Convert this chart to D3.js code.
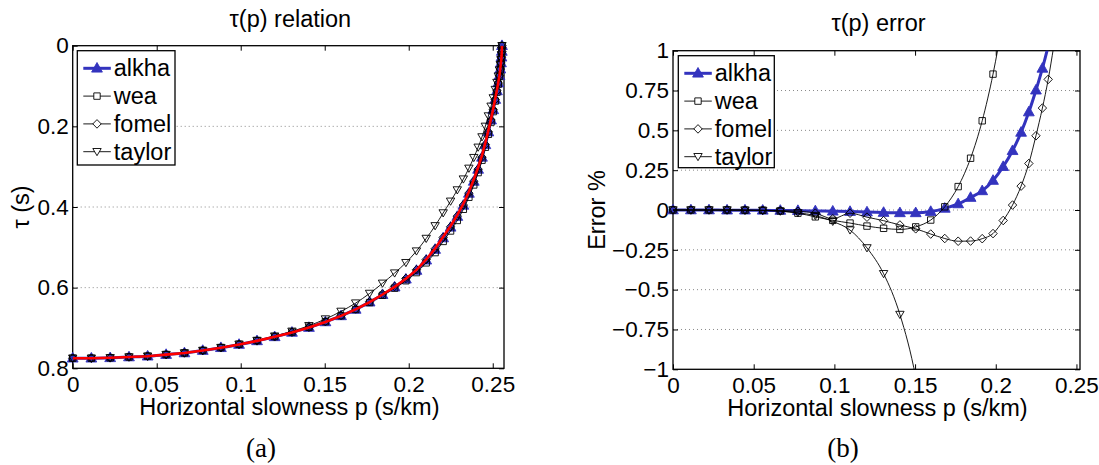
<!DOCTYPE html>
<html><head><meta charset="utf-8">
<script src="https://cdn.jsdelivr.net/npm/d3@7"></script>
<style>
body{margin:0;background:#fff;}
</style></head><body>
<svg id="c" width="1099" height="465" style="background:#fff"></svg>
<script>
// ---------- data ----------
const pValues = [0,0.0111,0.0223,0.0335,0.0446,0.0556,0.0665,0.0774,0.0882,0.0990,0.1097,0.1202,0.1305,0.1406,0.1504,0.1597,0.1684,0.1767,0.1844,0.1916,0.1983,0.2046,0.2104,0.2157,0.2205,0.2249,0.2289,0.2325,0.2358,0.2387,0.2413,0.2436,0.2456,0.2474,0.2490,0.2503,0.2515,0.2525,0.2533,0.2540,0.2545,0.2549,0.2552,0.2554,0.2555];
const tauExact = [0.775,0.775,0.774,0.772,0.770,0.766,0.762,0.756,0.749,0.741,0.732,0.722,0.711,0.699,0.685,0.670,0.654,0.636,0.617,0.598,0.578,0.556,0.530,0.503,0.474,0.447,0.420,0.392,0.362,0.332,0.302,0.272,0.241,0.210,0.181,0.156,0.131,0.110,0.091,0.073,0.057,0.042,0.028,0.014,0.000];
const tauAlkha = [0.775,0.775,0.774,0.772,0.770,0.766,0.762,0.756,0.749,0.741,0.732,0.722,0.711,0.699,0.685,0.670,0.654,0.636,0.6175,0.5987,0.5791,0.5575,0.532,0.5054,0.4769,0.4504,0.4237,0.396,0.3663,0.3366,0.3068,0.2769,0.2458,0.2142,0.1846,0.1591,0.1336,0.1122,0.0928,0.0745,0.0581,0.0428,0.0286,0.0143,0];
const tauWea = [0.775,0.775,0.774,0.772,0.770,0.766,0.762,0.7558,0.7487,0.7405,0.7314,0.7213,0.7102,0.6981,0.6843,0.6696,0.6541,0.637,0.619,0.6013,0.5829,0.5627,0.5385,0.5131,0.4854,0.4595,0.4334,0.4057,0.3758,0.3453,0.3147,0.284,0.2518,0.2197,0.1895,0.1635,0.1373,0.1153,0.0954,0.0765,0.0597,0.044,0.0293,0.0147,0];
const tauFomel = [0.775,0.775,0.774,0.772,0.770,0.766,0.762,0.7559,0.7489,0.7406,0.7319,0.7217,0.7105,0.6983,0.6842,0.669,0.6528,0.6348,0.6158,0.5969,0.5771,0.5556,0.5302,0.5038,0.4754,0.4491,0.4227,0.3952,0.3657,0.336,0.3062,0.2764,0.2451,0.2138,0.1843,0.1588,0.1334,0.112,0.0926,0.0743,0.058,0.0428,0.0285,0.0143,0];
const tauTaylor = [0.775,0.775,0.774,0.772,0.770,0.766,0.762,0.7559,0.7487,0.7404,0.7311,0.7203,0.7082,0.6944,0.6778,0.6589,0.6383,0.6144,0.5892,0.5639,0.5381,0.5093,0.4781,0.4467,0.4148,0.3858,0.3578,0.3308,0.3041,0.2776,0.2519,0.2263,0.2,0.1743,0.1502,0.1295,0.1087,0.0913,0.0755,0.0606,0.0473,0.0349,0.0232,0.0116,0];

const errAlkha = [0,0,0,-0.001,-0.001,-0.002,-0.003,-0.004,-0.006,-0.008,-0.010,-0.013,-0.016,-0.018,-0.018,-0.010,0.010,0.038,0.078,0.120,0.185,0.272,0.372,0.487,0.615,0.752,0.889,1.03,1.18];
const errWea = [0,0,0,0,-0.001,-0.002,-0.006,-0.020,-0.043,-0.065,-0.082,-0.101,-0.115,-0.122,-0.106,-0.063,0.020,0.147,0.325,0.560,0.853,1.20];
const errFomel = [0,0,0,0,-0.001,-0.002,-0.004,-0.008,-0.020,-0.055,-0.020,-0.045,-0.067,-0.094,-0.118,-0.151,-0.179,-0.196,-0.195,-0.180,-0.148,-0.066,0.031,0.150,0.292,0.466,0.640,0.820,1.02];
const errTaylor = [0,0,0,0,-0.001,-0.003,-0.008,-0.018,-0.035,-0.072,-0.126,-0.238,-0.400,-0.656,-1.05,-1.65];

const seriesNames = ["alkha","wea","fomel","taylor"];
const xTicks = [0,0.05,0.1,0.15,0.2,0.25];
const xTickLabels = ["0","0.05","0.1","0.15","0.2","0.25"];
const leftYTicks = [0,0.2,0.4,0.6,0.8];
const leftYTickLabels = ["0","0.2","0.4","0.6","0.8"];
const rightYTicks = [1,0.75,0.5,0.25,0,-0.25,-0.5,-0.75,-1];
const rightYTickLabels = ["1","0.75","0.5","0.25","0","\u22120.25","\u22120.5","\u22120.75","\u22121"];

// ---------- style ----------
const FONT = "'Liberation Sans', Arial, Helvetica, sans-serif";
const BLUE = "rgb(51,51,190)";
const styles = {
  alkha: {color: BLUE, width: 3, marker: "triUp", fill: BLUE},
  wea: {color: "#000", width: 0.9, marker: "square", fill: "none"},
  fomel: {color: "#000", width: 0.9, marker: "diamond", fill: "none"},
  taylor: {color: "#000", width: 0.9, marker: "triDown", fill: "none"}
};
function markerPath(t){
  switch(t){
    case "triUp": return "M0,-5.8L5.4,3.8L-5.4,3.8Z";
    case "triDown": return "M0,4L4.2,-3.2L-4.2,-3.2Z";
    case "square": return "M-3.2,-3.2L3.2,-3.2L3.2,3.2L-3.2,3.2Z";
    case "diamond": return "M0,-4.3L4.2,0L0,4.3L-4.2,0Z";
  }
}

const svg = d3.select("#c");
svg.append("rect").attr("width",1099).attr("height",465).attr("fill","#fff");

function panel(o){
  const g = svg.append("g");
  const x = d3.scaleLinear().domain([0,o.xMax]).range([o.left,o.right]);
  const y = d3.scaleLinear().domain(o.yDomain).range([o.top,o.bottom]);
  const clipId = "clip"+o.id;
  svg.append("defs").append("clipPath").attr("id",clipId)
    .append("rect").attr("x",o.left).attr("y",o.top).attr("width",o.right-o.left).attr("height",o.bottom-o.top);
  // grid
  g.append("g").selectAll("line").data(o.yTicks.filter(d=>d!==o.yDomain[0]&&d!==o.yDomain[1])).join("line")
    .attr("x1",o.left).attr("x2",o.right).attr("y1",d=>y(d)).attr("y2",d=>y(d))
    .attr("stroke","#8a8a8a").attr("stroke-width",1).attr("stroke-dasharray","1,3");
  // axes
  const style = sel => { sel.select(".domain").remove();
    sel.attr("font-family",FONT).attr("font-size",22.5);
    sel.selectAll("line").attr("stroke","#000");
    sel.selectAll("text").attr("fill","#000"); };
  g.append("g").attr("transform",`translate(0,${o.bottom})`)
    .call(d3.axisBottom(x).tickValues(xTicks).tickFormat((d,i)=>xTickLabels[i]).tickSize(-5).tickPadding(8)).call(style);
  g.append("g").attr("transform",`translate(0,${o.top})`)
    .call(d3.axisTop(x).tickValues(xTicks).tickFormat("").tickSize(-5)).call(style);
  g.append("g").attr("transform",`translate(${o.left},0)`)
    .call(d3.axisLeft(y).tickValues(o.yTicks).tickFormat((d,i)=>o.yTickLabels[i]).tickSize(-5).tickPadding(4)).call(style);
  g.append("g").attr("transform",`translate(${o.right},0)`)
    .call(d3.axisRight(y).tickValues(o.yTicks).tickFormat("").tickSize(-5)).call(style);
  g.append("rect").attr("x",o.left).attr("y",o.top).attr("width",o.right-o.left).attr("height",o.bottom-o.top)
    .attr("fill","none").attr("stroke","#000").attr("stroke-width",1.3);

  const line = d3.line().x(d=>x(d[0])).y(d=>y(d[1])).curve(d3.curveMonotoneX);
  const [lo,hi] = [Math.min(...o.yDomain),Math.max(...o.yDomain)];
  o.series.forEach(s=>{
    const st = styles[s.name];
    const pts = s.values.map((v,i)=>[pValues[i],v]);
    g.append("path").attr("d",line(pts)).attr("fill","none").attr("stroke",st.color)
      .attr("stroke-width",st.width).attr("clip-path",`url(#${clipId})`);
    g.append("g").selectAll("path").data(pts.filter(d=>d[1]>=lo-1e-9&&d[1]<=hi+1e-9)).join("path")
      .attr("d",markerPath(st.marker)).attr("transform",d=>`translate(${x(d[0])},${y(d[1])})`)
      .attr("fill",st.fill).attr("stroke",st.color).attr("stroke-width",0.9);
  });
  if(o.exact){
    const pts = o.exact.map((v,i)=>[pValues[i],v]);
    g.append("path").attr("d",d3.line().x(d=>x(d[0])).y(d=>y(d[1])).curve(d3.curveLinear)(pts))
      .attr("fill","none").attr("stroke","#ff0000").attr("stroke-width",2.6).attr("clip-path",`url(#${clipId})`);
  }
  // legend
  const L = o.legend;
  const lg = g.append("g");
  lg.append("rect").attr("x",L.x).attr("y",L.y).attr("width",L.w).attr("height",L.h)
    .attr("fill","#fff").attr("stroke","#000").attr("stroke-width",1.3);
  seriesNames.forEach((n,i)=>{
    const st = styles[n]; const yy = L.y + 17.6 + i*27.8;
    lg.append("line").attr("x1",L.x+6).attr("x2",L.x+33.5).attr("y1",yy).attr("y2",yy)
      .attr("stroke",st.color).attr("stroke-width",st.width);
    lg.append("path").attr("d",markerPath(st.marker)).attr("transform",`translate(${L.x+19.7},${yy})`)
      .attr("fill",st.fill==="none"?"#fff":st.fill).attr("stroke",st.color).attr("stroke-width",0.9);
    lg.append("text").attr("x",L.x+36.5).attr("y",yy+8).text(n)
      .attr("font-family",FONT).attr("font-size",23.5).attr("fill","#000");
  });
  // labels
  const cx = (o.left+o.right)/2;
  g.append("text").attr("x",cx+2).attr("y",o.titleY).attr("text-anchor","middle").text(o.title)
    .attr("font-family",FONT).attr("font-size",23.5);
  g.append("text").attr("x",cx+1).attr("y",o.xLabelY).attr("text-anchor","middle").text("Horizontal slowness p (s/km)")
    .attr("font-family",FONT).attr("font-size",23.5);
  g.append("text").attr("transform",`translate(${o.yLabelX},${(o.top+o.bottom)/2}) rotate(-90)`)
    .attr("text-anchor","middle").text(o.yLabel).attr("font-family",FONT).attr("font-size",23.5);
  g.append("text").attr("x",o.capX).attr("y",457).attr("text-anchor","middle").text(o.caption)
    .attr("font-family","'Liberation Serif', 'DejaVu Serif', serif").attr("font-size",27);
}

panel({id:"L", left:72.7, right:504, top:45.7, bottom:368.3, xMax:0.2567, yDomain:[0,0.8],
  yTicks:leftYTicks, yTickLabels:leftYTickLabels,
  series:[{name:"alkha",values:tauAlkha},{name:"wea",values:tauWea},{name:"fomel",values:tauFomel},{name:"taylor",values:tauTaylor}],
  exact:tauExact, legend:{x:77.3,y:50.7,w:97.7,h:114.3},
  title:"\u03c4(p) relation", titleY:27, xLabelY:415, yLabel:"\u03c4 (s)", yLabelX:29, caption:"(a)", capX:261});

panel({id:"R", left:673, right:1080, top:50.7, bottom:369.3, xMax:0.2522, yDomain:[1,-1],
  yTicks:rightYTicks, yTickLabels:rightYTickLabels,
  series:[{name:"alkha",values:errAlkha},{name:"wea",values:errWea},{name:"fomel",values:errFomel},{name:"taylor",values:errTaylor}],
  legend:{x:678.3,y:55.7,w:96,h:112},
  title:"\u03c4(p) error", titleY:31, xLabelY:416, yLabel:"Error %", yLabelX:605, caption:"(b)", capX:843});
</script>
</body></html>
